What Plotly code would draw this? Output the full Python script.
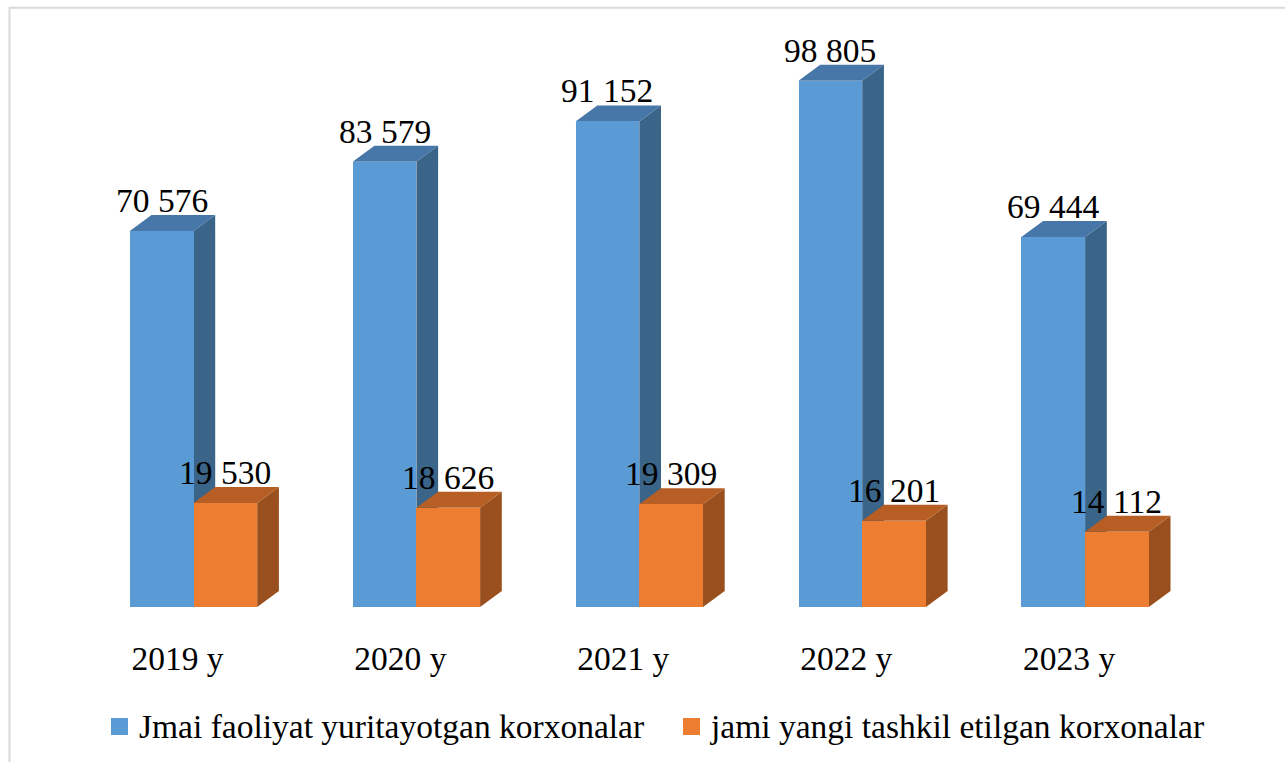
import plotly.graph_objects as go

# ---- data ----
categories = ["2019 y", "2020 y", "2021 y", "2022 y", "2023 y"]
active = [70576, 83579, 91152, 98805, 69444]
new_created = [19530, 18626, 19309, 16201, 14112]
series_names = ["Jmai faoliyat yuritayotgan korxonalar",
                "jami yangi tashkil etilgan korxonalar"]

# ---- style ----
FONT = "Liberation Serif"
FS = 33.5
BLUE = ["#5b9bd5", "#4677a8", "#3a6488"]      # front, top, side
ORANGE = ["#ed7d31", "#b65e23", "#9a501e"]

W = 0.2858     # bar width (category units)
DX = 0.0974    # depth offset in x (category units)
DY = 3004      # depth offset in y (value units)


def fmt(v):
    return f"{v:,}".replace(",", " ")


fig = go.Figure()
shapes = []
annotations = []
xs = list(range(len(categories)))

for vals, cols, off, name in [(active, BLUE, -W, series_names[0]),
                              (new_created, ORANGE, 0.0, series_names[1])]:
    fig.add_bar(x=[i + off + W / 2 for i in xs], y=vals, width=W,
                marker=dict(color=cols[0], line=dict(width=0)),
                name=name, showlegend=False, hoverinfo="y")
    for i, v in zip(xs, vals):
        left = i + off
        right = left + W
        top = (f"M {left},{v} L {left + DX},{v + DY} L {right + DX},{v + DY} "
               f"L {right},{v} Z")
        side = (f"M {right},0 L {right + DX},{DY} L {right + DX},{v + DY} "
                f"L {right},{v} Z")
        shapes.append(dict(type="path", path=side, xref="x", yref="y",
                           fillcolor=cols[2], line=dict(width=0), layer="below"))
        shapes.append(dict(type="path", path=top, xref="x", yref="y",
                           fillcolor=cols[1], line=dict(width=0), layer="below"))
        annotations.append(dict(x=left + W / 2, y=v + DY, xref="x", yref="y",
                                text=fmt(v), showarrow=False, yanchor="bottom",
                                xanchor="center", yshift=-6,
                                font=dict(family=FONT, size=FS, color="#000000")))

# frame
shapes.append(dict(type="rect", xref="paper", yref="paper",
                   x0=0.0004, x1=1.02, y0=-0.3, y1=0.9988,
                   line=dict(color="#d9d9d9", width=2), layer="below"))

# legend (manual, to match square size)
PLOT_L, PLOT_W, PLOT_B, PLOT_H = 9, 1276, 607, 600


def px(xp):
    return (xp - PLOT_L) / PLOT_W


def py(yp):
    return (PLOT_B - yp) / PLOT_H


for (sx0, tx), col, name in [((111, 137), BLUE[0], series_names[0]),
                             ((683, 708), ORANGE[0], series_names[1])]:
    shapes.append(dict(type="rect", xref="paper", yref="paper",
                       x0=px(sx0), x1=px(sx0 + 17), y0=py(735), y1=py(718),
                       fillcolor=col, line=dict(width=0)))
    annotations.append(dict(x=px(tx), y=py(726), xref="paper", yref="paper",
                            text=name, showarrow=False, xanchor="left",
                            yanchor="middle",
                            font=dict(family=FONT, size=FS, color="#000000")))

fig.update_layout(
    width=1285, height=762, autosize=False,
    margin=dict(l=PLOT_L, r=0, t=7, b=155),
    paper_bgcolor="white", plot_bgcolor="white",
    barmode="overlay", bargap=0,
    shapes=shapes, annotations=annotations,
    showlegend=False,
    xaxis=dict(range=[-0.8277, 4.8968], tickvals=xs, ticktext=categories,
               showgrid=False, zeroline=False, showline=False, ticks="",
               ticklabelshift=-16, ticklabelstandoff=28,
               tickfont=dict(family=FONT, size=FS, color="#000000"),
               fixedrange=True),
    yaxis=dict(range=[0, 112634], visible=False, fixedrange=True),
)

fig.write_html("out.html",
               config={"displayModeBar": False},
               post_script="document.body.style.margin='0';"
                           "document.body.style.overflow='hidden';")
